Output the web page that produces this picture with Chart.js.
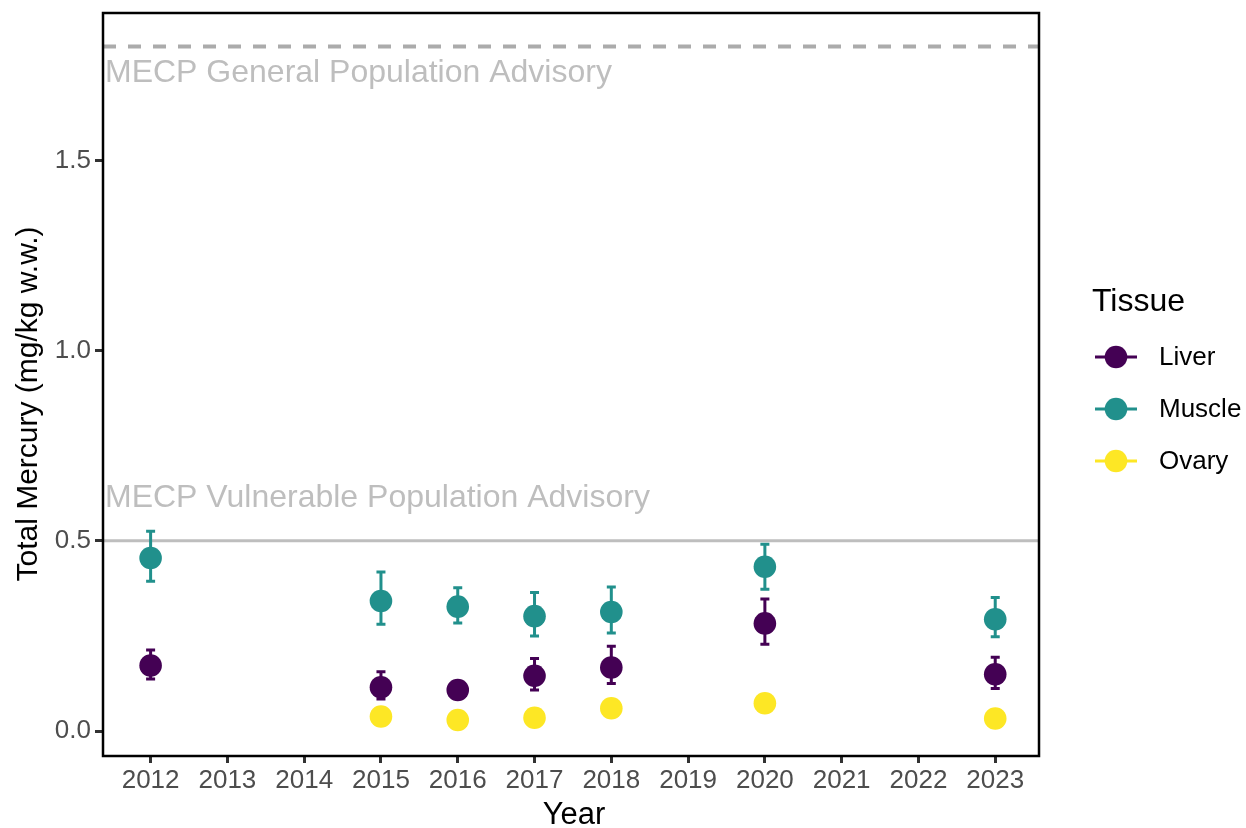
<!DOCTYPE html>
<html>
<head>
<meta charset="utf-8">
<script src="https://cdn.jsdelivr.net/npm/chart.js@4.4.1/dist/chart.umd.min.js"></script>
<style>
  html, body { margin: 0; padding: 0; background: #ffffff; }
  #wrap { width: 1246px; height: 828px; position: relative; }
</style>
</head>
<body>
<div id="wrap"><canvas id="c" width="1246" height="828"></canvas></div>
<script>
// Sampling years and tick labels
const years = [2012, 2015, 2016, 2017, 2018, 2020, 2023];
const xTickYears = [2012, 2013, 2014, 2015, 2016, 2017, 2018, 2019, 2020, 2021, 2022, 2023];
const yTickValues = [0, 0.5, 1.0, 1.5];

// Mean total mercury (mg/kg w.w.) with lower / upper error limits
const liverMean  = [0.172, 0.115, 0.108, 0.145, 0.167, 0.283, 0.149];
const liverLow   = [0.137, 0.084, 0.095, 0.108, 0.125, 0.228, 0.112];
const liverHigh  = [0.213, 0.156, 0.120, 0.191, 0.223, 0.347, 0.194];

const muscleMean = [0.455, 0.342, 0.327, 0.302, 0.313, 0.432, 0.294];
const muscleLow  = [0.394, 0.281, 0.284, 0.250, 0.258, 0.373, 0.248];
const muscleHigh = [0.525, 0.418, 0.377, 0.364, 0.379, 0.491, 0.351];

const ovaryMean  = [null, 0.038, 0.029, 0.035, 0.060, 0.073, 0.033];

// Advisory thresholds
const generalAdvisory = 1.8;
const vulnerableAdvisory = 0.5;
const generalLabel = "MECP General Population Advisory";
const vulnerableLabel = "MECP Vulnerable Population Advisory";

const tissueNames = ["Liver", "Muscle", "Ovary"];
const tissueColors = ["#440154", "#21908C", "#FDE725"];

const FONT = "'Liberation Sans', Arial, Helvetica, sans-serif";
Chart.defaults.font.family = FONT;

function toPoints(vals, lo, hi) {
  const out = [];
  years.forEach((yr, i) => {
    if (vals[i] === null) return;
    out.push({ x: yr, y: vals[i], lo: lo ? lo[i] : null, hi: hi ? hi[i] : null });
  });
  return out;
}

const datasets = [
  { label: tissueNames[0], data: toPoints(liverMean, liverLow, liverHigh) },
  { label: tissueNames[1], data: toPoints(muscleMean, muscleLow, muscleHigh) },
  { label: tissueNames[2], data: toPoints(ovaryMean, null, null) }
].map((d, i) => Object.assign(d, {
  backgroundColor: tissueColors[i],
  borderColor: tissueColors[i],
  borderWidth: 0,
  pointRadius: 11.3,
  pointHoverRadius: 11.3,
  showLine: false
}));

// Reference lines + their labels, drawn beneath the points
const advisoryPlugin = {
  id: 'advisory',
  beforeDatasetsDraw(chart) {
    const { ctx, chartArea: a, scales: { y } } = chart;
    ctx.save();
    ctx.beginPath();
    ctx.rect(a.left, a.top, a.right - a.left, a.bottom - a.top);
    ctx.clip();
    // general population: dashed
    const yg = y.getPixelForValue(generalAdvisory);
    ctx.strokeStyle = '#ABABAB';
    ctx.lineWidth = 4;
    ctx.setLineDash([13, 12]);
    ctx.beginPath();
    ctx.moveTo(a.left, yg);
    ctx.lineTo(a.right, yg);
    ctx.stroke();
    // vulnerable population: solid
    const yv = y.getPixelForValue(vulnerableAdvisory);
    ctx.setLineDash([]);
    ctx.strokeStyle = '#BEBEBE';
    ctx.lineWidth = 3;
    ctx.beginPath();
    ctx.moveTo(a.left, yv);
    ctx.lineTo(a.right, yv);
    ctx.stroke();
    // labels
    ctx.fillStyle = '#BEBEBE';
    ctx.font = `32px ${FONT}`;
    ctx.textAlign = 'left';
    ctx.textBaseline = 'alphabetic';
    ctx.fillText(generalLabel, a.left + 2, yg + 36);
    ctx.fillText(vulnerableLabel, a.left + 2, yv - 34);
    ctx.restore();
  }
};

// Vertical error bars with short caps
const errorBarPlugin = {
  id: 'errorBars',
  beforeDatasetsDraw(chart) {
    const { ctx, scales: { x, y } } = chart;
    ctx.save();
    chart.data.datasets.forEach(ds => {
      ctx.strokeStyle = ds.borderColor;
      ctx.lineWidth = 3;
      ds.data.forEach(p => {
        if (p.lo === null || p.hi === null) return;
        const px = x.getPixelForValue(p.x);
        const yl = y.getPixelForValue(p.lo);
        const yh = y.getPixelForValue(p.hi);
        ctx.beginPath();
        ctx.moveTo(px, yl); ctx.lineTo(px, yh);
        ctx.moveTo(px - 4.5, yl); ctx.lineTo(px + 4.5, yl);
        ctx.moveTo(px - 4.5, yh); ctx.lineTo(px + 4.5, yh);
        ctx.stroke();
      });
    });
    ctx.restore();
  }
};

// Panel border, axis titles and legend
const framePlugin = {
  id: 'frame',
  afterDraw(chart) {
    const { ctx, chartArea: a } = chart;
    ctx.save();
    ctx.strokeStyle = '#000000';
    ctx.lineWidth = 2.5;
    ctx.strokeRect(a.left, a.top, a.right - a.left, a.bottom - a.top);

    // axis titles
    ctx.fillStyle = '#000000';
    ctx.font = `31px ${FONT}`;
    ctx.textAlign = 'center';
    ctx.textBaseline = 'alphabetic';
    ctx.fillText('Year', 574, 824);
    ctx.save();
    ctx.translate(37, 404);
    ctx.rotate(-Math.PI / 2);
    ctx.font = `30px ${FONT}`;
    ctx.fillText('Total Mercury (mg/kg w.w.)', 0, 0);
    ctx.restore();

    // legend
    ctx.textAlign = 'left';
    ctx.font = `32px ${FONT}`;
    ctx.fillText('Tissue', 1092, 311);
    ctx.font = `26px ${FONT}`;
    ctx.textBaseline = 'middle';
    const rowY = [357, 409, 461];
    chart.data.datasets.forEach((ds, i) => {
      const cy = rowY[i];
      ctx.strokeStyle = ds.borderColor;
      ctx.lineWidth = 3;
      ctx.beginPath();
      ctx.moveTo(1095, cy); ctx.lineTo(1137, cy);
      ctx.stroke();
      ctx.fillStyle = ds.backgroundColor;
      ctx.beginPath();
      ctx.arc(1116, cy, 11.3, 0, Math.PI * 2);
      ctx.fill();
      ctx.fillStyle = '#000000';
      ctx.fillText(ds.label, 1159, cy + 1);
    });
    ctx.restore();
  }
};

new Chart(document.getElementById('c'), {
  type: 'scatter',
  data: { datasets },
  plugins: [advisoryPlugin, errorBarPlugin, framePlugin],
  options: {
    responsive: false,
    animation: false,
    layout: { padding: { left: 0, top: 13, right: 207, bottom: 0 } },
    plugins: { legend: { display: false }, tooltip: { enabled: false } },
    scales: {
      x: {
        type: 'linear',
        min: 2011.38,
        max: 2023.57,
        afterFit(scale) { scale.height = 72; scale.paddingLeft = 0; scale.paddingRight = 0; },
        afterBuildTicks(scale) { scale.ticks = xTickYears.map(v => ({ value: v })); },
        border: { display: false },
        grid: { drawOnChartArea: false, drawTicks: true, tickLength: 7, color: '#333333', lineWidth: 3 },
        ticks: {
          color: '#4D4D4D',
          font: { size: 26 },
          padding: 2,
          maxRotation: 0,
          autoSkip: false,
          callback: v => String(v)
        }
      },
      y: {
        min: -0.0657,
        max: 1.888,
        afterFit(scale) { scale.width = 103; scale.paddingTop = 0; scale.paddingBottom = 0; },
        afterBuildTicks(scale) { scale.ticks = yTickValues.map(v => ({ value: v })); },
        border: { display: false },
        grid: { drawOnChartArea: false, drawTicks: true, tickLength: 8, color: '#333333', lineWidth: 3 },
        ticks: {
          color: '#4D4D4D',
          font: { size: 26 },
          padding: 4,
          callback: v => Number(v).toFixed(1)
        }
      }
    }
  }
});
</script>
</body>
</html>
